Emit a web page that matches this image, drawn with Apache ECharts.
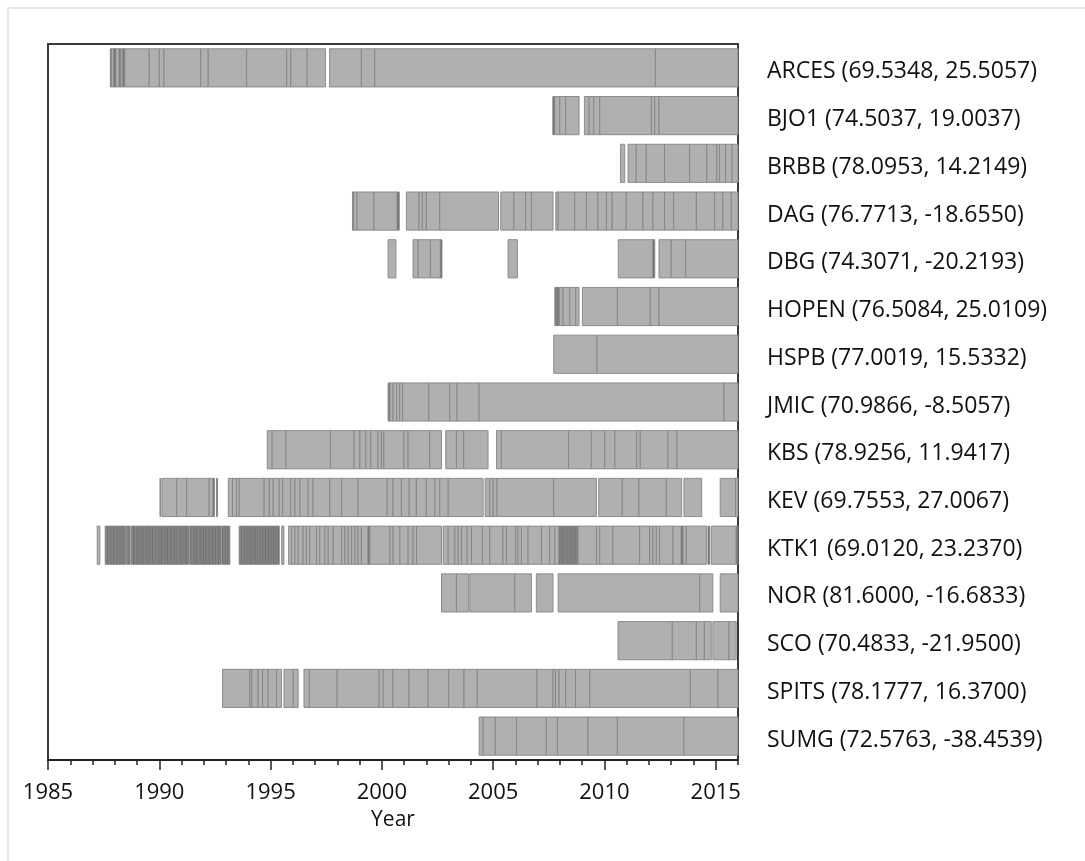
<!DOCTYPE html>
<html>
<head>
<meta charset="utf-8">
<script src="https://cdn.jsdelivr.net/npm/echarts@6/dist/echarts.min.js"></script>
<style>
html,body{margin:0;padding:0;background:#fff;}
#chart{width:1085px;height:861px;}
</style>
</head>
<body>
<div id="chart"></div>
<script>
// Stations (top to bottom) and their coordinates
const stations = ['ARCES','BJO1','BRBB','DAG','DBG','HOPEN','HSPB','JMIC','KBS','KEV','KTK1','NOR','SCO','SPITS','SUMG'];
const lats = ['69.5348','74.5037','78.0953','76.7713','74.3071','76.5084','77.0019','70.9866','78.9256','69.7553','69.0120','81.6000','70.4833','78.1777','72.5763'];
const lons = ['25.5057','19.0037','14.2149','-18.6550','-20.2193','25.0109','15.5332','-8.5057','11.9417','27.0067','23.2370','-16.6833','-21.9500','16.3700','-38.4539'];

// Availability: each station has runs of contiguous data; each run lists its segment boundaries (decimal years)
const ARCES = [[1987.8,1987.86,1987.96,1988.05,1988.2,1988.27,1988.37,1988.45,1989.55,1990.0,1990.21,1991.86,1992.2,1993.92,1995.72,1995.91,1996.64,1997.47],
  [1997.65,1999.08,1999.68,2012.29,2016]];
const BJO1 = [[2007.68,2007.77,2007.99,2008.26,2008.86],[2009.1,2009.31,2009.52,2009.79,2012.11,2012.26,2012.45,2016]];
const BRBB = [[2010.72,2010.91],[2011.06,2011.43,2011.88,2012.7,2013.83,2014.6,2015.05,2015.17,2015.44,2015.74,2016]];
const DAG = [[1998.68,1998.73,1998.88,1999.64,2000.69,2000.78],[2001.1,2001.67,2001.82,2002.0,2002.6,2005.24],
  [2005.34,2005.93,2006.46,2006.72,2007.69],
  [2007.81,2007.92,2008.66,2009.19,2009.71,2010.09,2010.35,2010.98,2011.73,2012.18,2012.7,2013.11,2014.13,2014.95,2015.32,2015.7,2016]];
const DBG = [[2000.28,2000.63],[2001.4,2001.63,2002.18,2002.63,2002.7],[2005.67,2006.09],[2010.62,2012.18,2012.26],[2012.45,2013.0,2013.65,2016]];
const HOPEN = [[2007.77,2007.81,2007.86,2007.92,2007.97,2008.14,2008.44,2008.71,2008.86],[2009.01,2010.58,2012.06,2012.45,2016]];
const HSPB = [[2007.72,2009.67,2016]];
const JMIC = [[2000.28,2000.36,2000.5,2000.66,2000.8,2000.93,2002.11,2003.05,2003.38,2004.37,2015.37,2016]];
const KBS = [[1994.85,1995.07,1995.69,1997.69,1998.75,1999.01,1999.28,1999.5,1999.83,1999.98,2000.09,2000.99,2001.18,2002.15,2002.68],
  [2002.87,2003.35,2003.68,2004.77],
  [2005.15,2005.37,2008.39,2009.41,2010.01,2010.47,2011.45,2011.61,2012.85,2013.26,2016]];
const KEV = [[1990.03,1990.06],[1990.12,1990.78,1991.23,1992.24,1992.42,1992.48],[1992.57,1992.62],
  [1993.1,1993.29,1993.47,1993.59,1994.71,1994.94,1995.12,1995.39,1995.54,1995.9,1996.09,1996.32,1996.69,1996.91,1997.66,1998.19,1998.93,2000.24,2000.5,2000.88,2001.23,2001.55,2002.0,2002.38,2002.6,2002.98,2004.55],
  [2004.64,2004.85,2005.0,2005.18,2007.72,2009.64],[2009.74,2010.8,2011.55,2012.78,2013.47],[2013.57,2014.37],[2015.2,2015.89,2016]];
const KTK1 = [[1987.21,1987.33],
  [1987.57,1987.63,1987.71,1987.76,1987.84,1987.9,1987.98,1988.03,1988.1,1988.17,1988.24,1988.29,1988.37,1988.43,1988.48],
  [1988.52,1988.58,1988.64,1988.69],
  [1988.74,1988.8,1988.88,1988.93,1989.0,1989.07,1989.13,1989.19,1989.27,1989.33,1989.4,1989.45,1989.53,1989.6,1989.65,1989.73,1989.8,1989.86,1989.92,1990.0,1990.06,1990.14,1990.2,1990.26,1990.33,1990.41,1990.46,1990.53,1990.6,1990.66,1990.74,1990.8,1990.87,1990.92,1991.0,1991.07,1991.12,1991.2,1991.27,1991.33],
  [1991.37,1991.44,1991.5,1991.56,1991.63,1991.71,1991.77,1991.83,1991.9,1991.96,1992.03,1992.11,1992.17,1992.23,1992.3,1992.36,1992.43,1992.5,1992.57,1992.62,1992.7,1992.77],
  [1992.81,1992.88,1992.95,1993.02,1993.1,1993.17],
  [1993.59,1993.66,1993.73,1993.8,1993.88,1993.95,1994.02,1994.09,1994.17,1994.24,1994.3,1994.38,1994.45,1994.52,1994.6,1994.67,1994.74,1994.81,1994.88,1994.96,1995.03,1995.1,1995.18,1995.25,1995.32,1995.39],
  [1995.5,1995.6],
  [1995.81,1995.94,1996.09,1996.24,1996.46,1996.61,1996.76,1997.06,1997.21,1997.44,1997.59,1997.81,1998.19,1998.34,1998.49,1998.64,1998.79,1998.93,1999.08,1999.38,1999.46,2000.36,2000.51,2000.81,2001.18,2001.4,2001.56,2002.68],
  [2002.75,2002.98,2003.28,2003.43,2003.58,2003.83,2004.03,2004.52,2004.85,2005.44,2005.6,2006.01,2006.12,2006.27,2006.57,2007.17,2007.54,2007.77,
   2007.96,2008.02,2008.09,2008.14,2008.2,2008.26,2008.32,2008.38,2008.45,2008.5,2008.56,2008.63,2008.68,2008.75,2008.81,
   2009.64,2009.79,2010.38,2011.58,2012.03,2012.18,2012.33,2012.48,2013.08,2013.45,2013.53,2013.68,2014.58],
  [2014.65,2014.73],[2014.8,2015.92,2016]];
const NOR = [[2002.68,2003.35,2003.9],[2003.95,2005.97,2006.72],[2006.94,2007.69],[2007.92,2014.28,2014.87],[2015.2,2016]];
const SCO = [[2010.61,2013.05,2014.13,2014.49,2014.8],[2014.87,2015.59,2015.92]];
const SPITS = [[1992.84,1994.07,1994.16,1994.44,1994.64,1994.89,1995.27,1995.49],[1995.6,1996.02,1996.24],
  [1996.5,1996.74,1997.99,1999.88,2000.06,2000.49,2001.22,2002.08,2003.0,2003.69,2004.29,2006.97,2007.69,2007.8,2007.96,2008.26,2008.7,2009.34,2013.86,2015.1,2016]];
const SUMG = [[2004.37,2004.55,2005.1,2006.05,2007.39,2007.89,2009.26,2010.58,2013.57,2016]];

const stationRuns = [ARCES,BJO1,BRBB,DAG,DBG,HOPEN,HSPB,JMIC,KBS,KEV,KTK1,NOR,SCO,SPITS,SUMG];

// x-axis
const xMin = 1985, xMax = 2016, majorStep = 5, minorStep = 1;

// Build segment items [stationIndex, start, end]
const segData = [];
stationRuns.forEach(function (runs, si) {
  runs.forEach(function (run) {
    for (let k = 0; k < run.length - 1; k++) {
      segData.push([si, run[k], run[k + 1]]);
    }
  });
});

const chart = echarts.init(document.getElementById('chart'), null, {renderer: 'canvas'});
const FONT = '"Open Sans", "Noto Sans", sans-serif';

chart.setOption({
  animation: false,
  backgroundColor: '#ffffff',
  graphic: [{
    type: 'rect', z: -10, silent: true,
    shape: {x: 8, y: 8, width: 1200, height: 1000},
    style: {fill: 'none', stroke: '#e8e8e8', lineWidth: 2}
  }],
  grid: {
    left: 48, right: 347, top: 44, bottom: 101,
    show: true, borderColor: '#3a3a3a', borderWidth: 2, backgroundColor: 'transparent'
  },
  xAxis: [{
    type: 'value', min: xMin, max: xMax, interval: majorStep,
    position: 'bottom',
    name: 'Year', nameLocation: 'middle', nameGap: 50,
    nameTextStyle: {fontFamily: FONT, fontSize: 21, color: '#111'},
    axisLine: {show: true, lineStyle: {color: '#222', width: 2}},
    axisTick: {show: true, length: 10, lineStyle: {color: '#222', width: 1.5}},
    axisLabel: {fontFamily: FONT, fontSize: 22, color: '#111', margin: 22, showMaxLabel: false,
      formatter: function (v) { return String(v); }},
    splitLine: {show: false}
  }, {
    type: 'value', min: xMin, max: xMax, interval: minorStep,
    position: 'bottom',
    axisLine: {show: false},
    axisTick: {show: true, length: 5, lineStyle: {color: '#222', width: 1.5}},
    axisLabel: {show: false},
    splitLine: {show: false}
  }],
  yAxis: {
    type: 'category', data: stations, inverse: true, position: 'right',
    axisLine: {show: false}, axisTick: {show: false}, splitLine: {show: false},
    axisLabel: {
      margin: 29,
      formatter: function (v, i) { return '{a|' + v + ' (' + lats[i] + ', ' + lons[i] + ')}'; },
      rich: {a: {fontFamily: FONT, fontSize: 23, color: '#111', padding: [8, 0, 0, 0]}}
    }
  },
  series: [{
    type: 'custom',
    xAxisIndex: 0,
    data: segData,
    encode: {x: [1, 2], y: 0},
    renderItem: function (params, api) {
      const ci = api.value(0);
      const p0 = api.coord([api.value(1), ci]);
      const p1 = api.coord([api.value(2), ci]);
      const h = api.size([0, 1])[1] * 0.8;
      const dur = api.value(2) - api.value(1);
      return {
        type: 'rect',
        shape: {x: p0[0], y: p0[1] - h / 2, width: p1[0] - p0[0], height: h},
        style: {
          fill: dur < 0.09 ? '#6c6c6c' : '#b0b0b0',
          stroke: '#858585',
          lineWidth: 0.9
        }
      };
    }
  }]
});
</script>
</body>
</html>
